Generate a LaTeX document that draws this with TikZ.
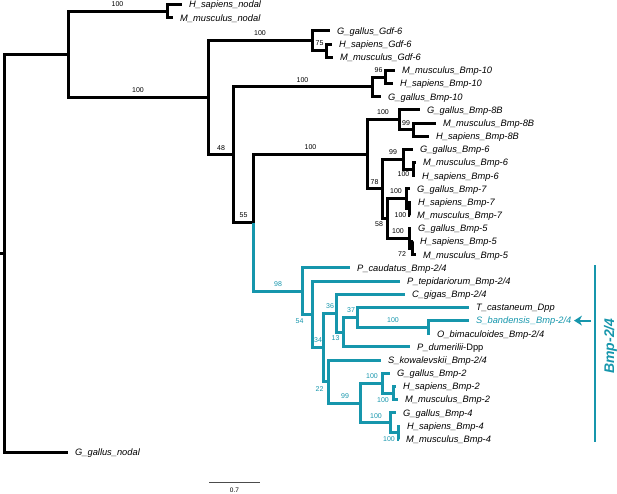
\documentclass[tikz,border=0pt]{standalone}
\usepackage{fontspec}
\setmainfont{Liberation Sans}
\usetikzlibrary{arrows.meta}
\definecolor{cladeteal}{RGB}{22,150,172}
\newcommand{\taxonfont}{\fontsize{9.3}{11}\selectfont\itshape}
\newcommand{\supportfont}{\fontsize{7}{8}\selectfont}
\tikzset{
  stem/.style={line width=3pt},
  cladestem/.style={line width=3pt, draw=cladeteal},
  taxon/.style={anchor=west, inner xsep=7pt, inner ysep=0pt, text height=7pt, text depth=0.4pt, font=\taxonfont},
  support/.style={inner sep=0pt, font=\supportfont},
  cladesupport/.style={support, text=cladeteal}
}
\begin{document}
\begin{tikzpicture}[x=1pt, y=-1pt]
    \useasboundingbox (0, 0) rectangle (617, 493);

    \coordinate (stub) at(0, 253.4);
    \coordinate (root) at(4, 253.4);
    \coordinate (splitA) at(68, 54.4);
    \coordinate (nodal) at(167, 11.1);
    \coordinate (splitB) at(208, 97.7);
    \coordinate (gdf) at(312, 40.7);
    \coordinate (gdfin) at(326, 50.6);
    \coordinate (split48) at(233, 154.8);
    \coordinate (bmpten) at(372, 86.8);
    \coordinate (bmptenin) at(385, 77);
    \coordinate (split55) at(253, 222.7);
    \coordinate (splitE) at(367, 154.3);
    \coordinate (bmpeight) at(399, 119.8);
    \coordinate (bmpeightin) at(413, 129.6);
    \coordinate (split78) at(382, 188.9);
    \coordinate (bmpsix) at(403, 159.3);
    \coordinate (bmpsixin) at(413, 169.1);
    \coordinate (split58) at(387, 218.5);
    \coordinate (bmpseven) at(406, 198.8);
    \coordinate (bmpsevenin) at(409, 208.7);
    \coordinate (bmpfive) at(409, 238.3);
    \coordinate (bmpfivein) at(412, 248.2);

    \coordinate (split98) at(302, 291.1);
    \coordinate (split54) at(312, 314.2);
    \coordinate (split34) at(323, 347.4);
    \coordinate (split36) at(336, 313.2);
    \coordinate (split13) at(343, 332.1);
    \coordinate (split37) at(357, 317.3);
    \coordinate (split100) at(428, 327.2);
    \coordinate (split22) at(328, 381.5);
    \coordinate (split99) at(360, 403);
    \coordinate (bmptwo) at(382, 383.2);
    \coordinate (bmptwoin) at(393, 393);
    \coordinate (bmpfour) at(390, 422.7);
    \coordinate (bmpfourin) at(398, 432.6);

    \node[taxon] (hsnodal) at(182, 4.5) {H\_sapiens\_nodal};
    \node[taxon] (mmnodal) at(173, 17.7) {M\_musculus\_nodal};
    \node[taxon] (gggdf) at(330, 30.8) {G\_gallus\_Gdf-6};
    \node[taxon] (hsgdf) at(332, 44) {H\_sapiens\_Gdf-6};
    \node[taxon] (mmgdf) at(333, 57.2) {M\_musculus\_Gdf-6};
    \node[taxon] (mmten) at(395, 70.4) {M\_musculus\_Bmp-10};
    \node[taxon] (hsten) at(393, 83.5) {H\_sapiens\_Bmp-10};
    \node[taxon] (ggten) at(381, 96.7) {G\_gallus\_Bmp-10};
    \node[taxon] (ggeight) at(420, 109.9) {G\_gallus\_Bmp-8B};
    \node[taxon] (mmeight) at(436, 123) {M\_musculus\_Bmp-8B};
    \node[taxon] (hseight) at(429, 136.2) {H\_sapiens\_Bmp-8B};
    \node[taxon] (ggsix) at(413, 149.4) {G\_gallus\_Bmp-6};
    \node[taxon] (mmsix) at(416, 162.5) {M\_musculus\_Bmp-6};
    \node[taxon] (hssix) at(415, 175.7) {H\_sapiens\_Bmp-6};
    \node[taxon] (ggseven) at(410, 188.9) {G\_gallus\_Bmp-7};
    \node[taxon] (hsseven) at(411, 202.1) {H\_sapiens\_Bmp-7};
    \node[taxon] (mmseven) at(410, 215.2) {M\_musculus\_Bmp-7};
    \node[taxon] (ggfive) at(411, 228.4) {G\_gallus\_Bmp-5};
    \node[taxon] (hsfive) at(413, 241.6) {H\_sapiens\_Bmp-5};
    \node[taxon] (mmfive) at(416, 254.7) {M\_musculus\_Bmp-5};
    \node[taxon] (pcau) at(350, 267.9) {P\_caudatus\_Bmp-2/4};
    \node[taxon] (ptep) at(400, 281.1) {P\_tepidariorum\_Bmp-2/4};
    \node[taxon] (cgig) at(405, 294.2) {C\_gigas\_Bmp-2/4};
    \node[taxon] (tcas) at(469, 307.4) {T\_castaneum\_Dpp};
    \node[taxon, text=cladeteal] (sban) at(469, 320.6) {S\_bandensis\kern1pt\_Bmp-2/4};
    \node[taxon] (obim) at(430, 333.8) {O\_bimaculoides\_Bmp-2/4};
    \node[taxon] (pdum) at(410, 346.9) {P\_dumerilii{\upshape -Dpp}};
    \node[taxon] (skow) at(381, 360.1) {S\_kowalevskii\_Bmp-2/4};
    \node[taxon] (ggtwo) at(390, 373.3) {G\_gallus\_Bmp-2};
    \node[taxon] (hstwo) at(396, 386.4) {H\_sapiens\_Bmp-2};
    \node[taxon] (mmtwo) at(398, 399.6) {M\_musculus\_Bmp-2};
    \node[taxon] (ggfour) at(396, 412.8) {G\_gallus\_Bmp-4};
    \node[taxon] (hsfour) at(400, 426) {H\_sapiens\_Bmp-4};
    \node[taxon] (mmfour) at(399, 439.1) {M\_musculus\_Bmp-4};
    \node[taxon] (ggnodal) at(68, 452.3) {G\_gallus\_nodal};

    \draw[stem] (stub) -- (root);
    \draw[stem] (root) |- (splitA);
    \draw[stem] (root) |- (ggnodal.west);
    \draw[stem] (splitA) |- (nodal);
    \draw[stem] (splitA) |- (splitB);
    \draw[stem] (nodal) |- (hsnodal.west);
    \draw[stem] (nodal) |- (mmnodal.west);
    \draw[stem] (splitB) |- (gdf);
    \draw[stem] (splitB) |- (split48);
    \draw[stem] (gdf) |- (gggdf.west);
    \draw[stem] (gdf) |- (gdfin);
    \draw[stem] (gdfin) |- (hsgdf.west);
    \draw[stem] (gdfin) |- (mmgdf.west);
    \draw[stem] (split48) |- (bmpten);
    \draw[stem] (split48) |- (split55);
    \draw[stem] (bmpten) |- (bmptenin);
    \draw[stem] (bmpten) |- (ggten.west);
    \draw[stem] (bmptenin) |- (mmten.west);
    \draw[stem] (bmptenin) |- (hsten.west);
    \draw[stem] (split55) |- (splitE);
    \draw[stem] (splitE) |- (bmpeight);
    \draw[stem] (splitE) |- (split78);
    \draw[stem] (bmpeight) |- (ggeight.west);
    \draw[stem] (bmpeight) |- (bmpeightin);
    \draw[stem] (bmpeightin) |- (mmeight.west);
    \draw[stem] (bmpeightin) |- (hseight.west);
    \draw[stem] (split78) |- (bmpsix);
    \draw[stem] (split78) |- (split58);
    \draw[stem] (bmpsix) |- (ggsix.west);
    \draw[stem] (bmpsix) |- (bmpsixin);
    \draw[stem] (bmpsixin) |- (mmsix.west);
    \draw[stem] (bmpsixin) |- (hssix.west);
    \draw[stem] (split58) |- (bmpseven);
    \draw[stem] (split58) |- (bmpfive);
    \draw[stem] (bmpseven) |- (ggseven.west);
    \draw[stem] (bmpseven) |- (bmpsevenin);
    \draw[stem] (bmpsevenin) |- (hsseven.west);
    \draw[stem] (bmpsevenin) |- (mmseven.west);
    \draw[stem] (bmpfive) |- (ggfive.west);
    \draw[stem] (bmpfive) |- (bmpfivein);
    \draw[stem] (bmpfivein) |- (hsfive.west);
    \draw[stem] (bmpfivein) |- (mmfive.west);

    \draw[cladestem] (split55) |- (split98);
    \draw[cladestem] (split98) |- (pcau.west);
    \draw[cladestem] (split98) |- (split54);
    \draw[cladestem] (split54) |- (ptep.west);
    \draw[cladestem] (split54) |- (split34);
    \draw[cladestem] (split34) |- (split36);
    \draw[cladestem] (split34) |- (split22);
    \draw[cladestem] (split36) |- (cgig.west);
    \draw[cladestem] (split36) |- (split13);
    \draw[cladestem] (split13) |- (split37);
    \draw[cladestem] (split13) |- (pdum.west);
    \draw[cladestem] (split37) |- (tcas.west);
    \draw[cladestem] (split37) |- (split100);
    \draw[cladestem] (split100) |- (sban.west);
    \draw[cladestem] (split100) |- (obim.west);
    \draw[cladestem] (split22) |- (skow.west);
    \draw[cladestem] (split22) |- (split99);
    \draw[cladestem] (split99) |- (bmptwo);
    \draw[cladestem] (split99) |- (bmpfour);
    \draw[cladestem] (bmptwo) |- (ggtwo.west);
    \draw[cladestem] (bmptwo) |- (bmptwoin);
    \draw[cladestem] (bmptwoin) |- (hstwo.west);
    \draw[cladestem] (bmptwoin) |- (mmtwo.west);
    \draw[cladestem] (bmpfour) |- (ggfour.west);
    \draw[cladestem] (bmpfour) |- (bmpfourin);
    \draw[cladestem] (bmpfourin) |- (hsfour.west);
    \draw[cladestem] (bmpfourin) |- (mmfour.west);

    \node[support] (supnodal) at(117.5, 4.5) {100};
    \node[support] (supB) at(138, 90.5) {100};
    \node[support] (supgdf) at(260, 33.5) {100};
    \node[support] (supgdfin) at(319.5, 43.5) {75};
    \node[support] (supten) at(302.5, 80) {100};
    \node[support] (suptenin) at(378.5, 70) {96};
    \node[support] (sup48) at(221, 148) {48};
    \node[support] (sup55) at(243.5, 215.5) {55};
    \node[support] (supE) at(310.5, 147.5) {100};
    \node[support] (supeight) at(383, 112.5) {100};
    \node[support] (supeightin) at(406, 123) {99};
    \node[support] (sup78) at(374.5, 182) {78};
    \node[support] (supsix) at(393, 152.5) {99};
    \node[support] (supsixin) at(403.5, 174) {100};
    \node[support] (supseven) at(396, 191.5) {100};
    \node[support] (supsevenin) at(400.5, 215) {100};
    \node[support] (sup58) at(379, 224.5) {58};
    \node[support] (supfive) at(398, 231) {100};
    \node[support] (supfivein) at(402, 254.5) {72};

    \node[cladesupport] (sup98) at(278, 284) {98};
    \node[cladesupport] (sup54) at(299.5, 321) {54};
    \node[cladesupport] (sup34) at(318, 340) {34};
    \node[cladesupport] (sup36) at(330, 306) {36};
    \node[cladesupport] (sup13) at(335.5, 338.5) {13};
    \node[cladesupport] (sup37) at(351, 310) {37};
    \node[cladesupport] (supband) at(393, 320) {100};
    \node[cladesupport] (sup22) at(319.5, 389) {22};
    \node[cladesupport] (sup99) at(345, 396) {99};
    \node[cladesupport] (suptwo) at(372, 376) {100};
    \node[cladesupport] (suptwoin) at(383, 400) {100};
    \node[cladesupport] (supfour) at(376, 416) {100};
    \node[cladesupport] (supfourin) at(389, 439) {100};

    \coordinate (bracktop) at(595, 265);
    \coordinate (brackbot) at(595, 442);
    \draw[cladeteal, line width=2pt] (bracktop) -- (brackbot);
    \node[rotate=90, inner sep=0pt, text=cladeteal, font=\fontsize{14}{16}\selectfont\bfseries\itshape] (cladename) at(610.5, 346) {Bmp-2/4};
    \coordinate (arrowtail) at(591, 320.6);
    \coordinate (arrowtip) at(574, 320.6);
    \draw[cladeteal, line width=2pt, -{Stealth[length=8pt, width=10pt]}] (arrowtail) -- (arrowtip);

    \coordinate (scaleleft) at(209, 482);
    \coordinate (scaleright) at(260, 482);
    \draw[line width=0.8pt, black!70] (scaleleft) -- (scaleright);
    \node[support, font=\fontsize{6.5}{7}\selectfont] (scalelabel) at(234.5, 490) {0.7};
\end{tikzpicture}
\end{document}
